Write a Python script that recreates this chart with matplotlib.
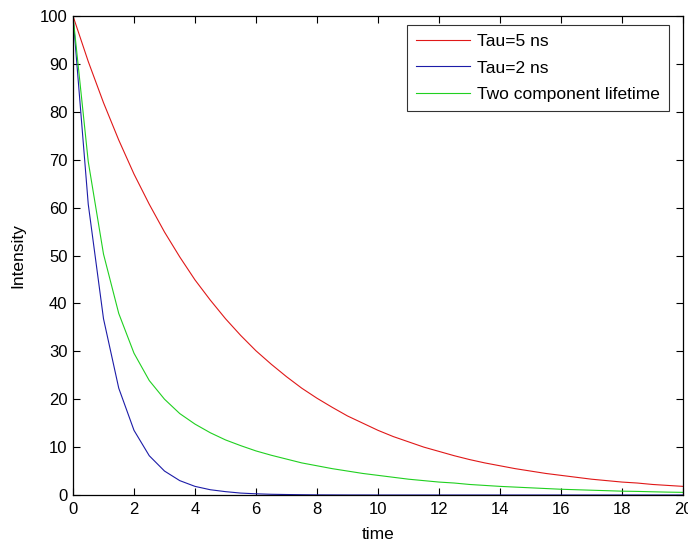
import matplotlib
matplotlib.use("Agg")
import matplotlib.pyplot as plt

plt.rcParams['font.family'] = ['Liberation Sans', 'DejaVu Sans']

# Data
time = [0, 0.5, 1, 1.5, 2, 2.5, 3, 3.5, 4, 4.5, 5, 5.5, 6, 6.5, 7, 7.5, 8, 8.5, 9, 9.5,
        10, 10.5, 11, 11.5, 12, 12.5, 13, 13.5, 14, 14.5, 15, 15.5, 16, 16.5, 17, 17.5,
        18, 18.5, 19, 19.5, 20]

tau5 = [100, 90.5, 81.9, 74.1, 67.0, 60.7, 54.9, 49.7, 44.9, 40.7, 36.8, 33.3, 30.1, 27.3,
        24.7, 22.3, 20.2, 18.3, 16.5, 15.0, 13.5, 12.2, 11.1, 10.0, 9.1, 8.2, 7.4, 6.7,
        6.1, 5.5, 5.0, 4.5, 4.1, 3.7, 3.3, 3.0, 2.7, 2.5, 2.2, 2.0, 1.8]

tau2 = [100, 60.7, 36.8, 22.3, 13.5, 8.2, 5.0, 3.0, 1.8, 1.1, 0.7, 0.4, 0.25, 0.15,
        0.1, 0.06, 0.03, 0.02, 0.01, 0.01, 0, 0, 0, 0, 0, 0, 0, 0, 0, 0, 0, 0, 0, 0, 0,
        0, 0, 0, 0, 0, 0]

two_comp = [100, 69.6, 50.3, 37.9, 29.6, 23.9, 20.0, 17.0, 14.8, 13.0, 11.5, 10.3, 9.2,
            8.3, 7.5, 6.7, 6.1, 5.5, 5.0, 4.5, 4.1, 3.7, 3.3, 3.0, 2.7, 2.5, 2.2, 2.0,
            1.8, 1.65, 1.5, 1.35, 1.2, 1.1, 1.0, 0.9, 0.8, 0.75, 0.67, 0.6, 0.55]

labels = ['Tau=5 ns', 'Tau=2 ns', 'Two component lifetime']
xticks = [0, 2, 4, 6, 8, 10, 12, 14, 16, 18, 20]
yticks = [0, 10, 20, 30, 40, 50, 60, 70, 80, 90, 100]

fig = plt.figure(figsize=(6.88, 5.43), dpi=100)
ax = fig.add_axes([73/688, 48/543, 610/688, 479/543])

ax.plot(time, tau5, color='#e01818', lw=0.8, label=labels[0])
ax.plot(time, tau2, color='#1c1ca8', lw=0.8, label=labels[1])
ax.plot(time, two_comp, color='#20d020', lw=0.8, label=labels[2])

ax.set_xlim(0, 20)
ax.set_ylim(0, 100)
ax.set_xticks(xticks)
ax.set_yticks(yticks)
ax.tick_params(direction='in', length=5, width=0.8, top=True, right=True,
               labelsize=12, colors='black')
ax.tick_params(axis='x', pad=5)
ax.tick_params(axis='y', pad=4)
for s in ax.spines.values():
    s.set_linewidth(0.9)
    s.set_color('black')

ax.set_xlabel('time', fontsize=12.5, labelpad=7)
ax.set_ylabel('Intensity', fontsize=12.5, labelpad=10)

leg = ax.legend(loc='upper right', bbox_to_anchor=(0.977, 0.981), borderaxespad=0,
                fancybox=False, frameon=True, edgecolor='black', fontsize=12.5,
                handlelength=3.15, handletextpad=0.4, labelspacing=0.66,
                borderpad=0.5)
leg.get_frame().set_linewidth(0.8)

fig.savefig('out.png', dpi=100)
